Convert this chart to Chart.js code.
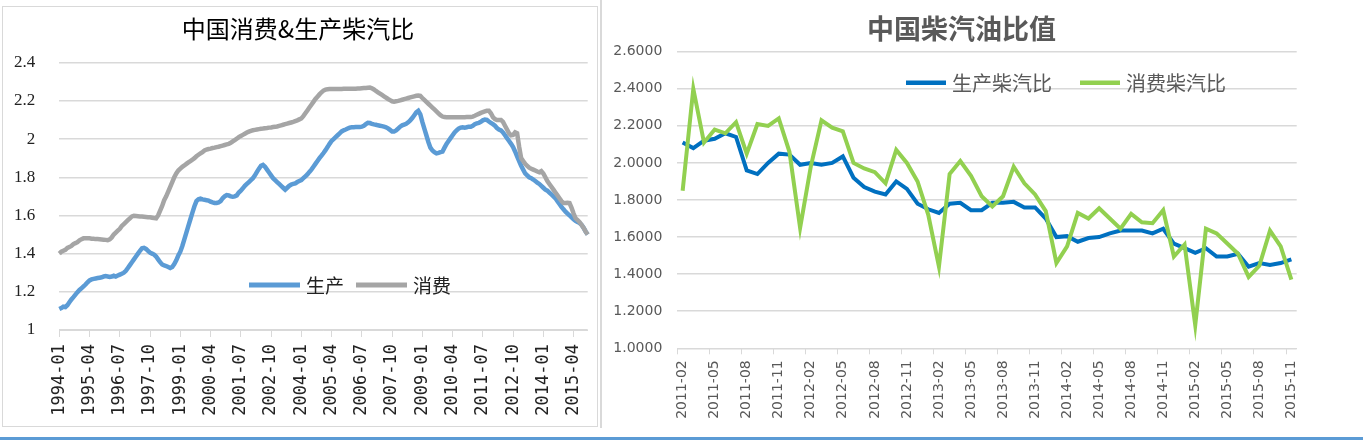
<!DOCTYPE html>
<html>
<head>
<meta charset="utf-8">
<script src="https://cdn.jsdelivr.net/npm/chart.js@4.4.1/dist/chart.umd.min.js"></script>
<style>
	body { margin: 0; background: #fff; width: 1363px; height: 444px; position: relative; overflow: hidden; }
	#marcoIzq { position: absolute; left: 2px; top: 6px; width: 596px; height: 421px; border: 1.5px solid #d9d9d9; box-sizing: border-box; }
	#lineaDer { position: absolute; left: 600px; top: 0; width: 1.5px; height: 428px; background: #d9d9d9; }
	#barra { position: absolute; left: 0; top: 437px; width: 1363px; height: 3px; background: #5b9bd5; }
	#graficoIzq { position: absolute; left: 0; top: 0; }
	#graficoDer { position: absolute; left: 601px; top: 0; }
</style>
</head>
<body>
<div id="marcoIzq"></div>
<div id="lineaDer"></div>
<div id="barra"></div>
<canvas id="graficoIzq" width="598" height="430"></canvas>
<canvas id="graficoDer" width="721" height="430"></canvas>
<script>
// grafico izquierdo: mensual 1994-01 .. 2015-11
var inicioIzq = [1994, 1];
var produccionIzq = [
	1.11, 1.115, 1.122, 1.12, 1.13, 1.145, 1.16, 1.172, 1.185, 1.198, 1.21, 1.218,
	1.228, 1.238, 1.25, 1.26, 1.265, 1.268, 1.27, 1.272, 1.274, 1.276, 1.28, 1.282,
	1.28, 1.278, 1.28, 1.284, 1.28, 1.285, 1.29, 1.295, 1.30, 1.31, 1.325, 1.34,
	1.355, 1.37, 1.385, 1.40, 1.415, 1.428, 1.43, 1.425, 1.415, 1.405, 1.40, 1.395,
	1.385, 1.37, 1.355, 1.343, 1.338, 1.335, 1.33, 1.325, 1.33, 1.345, 1.365, 1.39,
	1.41, 1.44, 1.475, 1.51, 1.545, 1.58, 1.615, 1.648, 1.675, 1.685, 1.688, 1.684,
	1.682, 1.68, 1.678, 1.672, 1.668, 1.665, 1.665, 1.668, 1.675, 1.69, 1.70, 1.707,
	1.705, 1.70, 1.698, 1.70, 1.705, 1.72, 1.73, 1.742, 1.755, 1.765, 1.775, 1.785,
	1.795, 1.81, 1.828, 1.845, 1.86, 1.865, 1.855, 1.84, 1.825, 1.81, 1.795, 1.785,
	1.775, 1.765, 1.755, 1.745, 1.735, 1.745, 1.755, 1.762, 1.765, 1.768, 1.775, 1.78,
	1.785, 1.795, 1.805, 1.815, 1.828, 1.84, 1.855, 1.87, 1.885, 1.90, 1.913, 1.927,
	1.942, 1.958, 1.975, 1.99, 2.00, 2.01, 2.02, 2.03, 2.04, 2.046, 2.05, 2.055,
	2.06, 2.062, 2.062, 2.063, 2.063, 2.063, 2.065, 2.07, 2.078, 2.085, 2.084, 2.08,
	2.077, 2.075, 2.072, 2.07, 2.068, 2.065, 2.062, 2.056, 2.048, 2.04, 2.04, 2.045,
	2.055, 2.065, 2.072, 2.076, 2.08, 2.088, 2.098, 2.11, 2.125, 2.14, 2.148, 2.13,
	2.09, 2.055, 2.02, 1.985, 1.955, 1.94, 1.932, 1.925, 1.928, 1.932, 1.935, 1.955,
	1.975, 1.99, 2.005, 2.02, 2.035, 2.045, 2.055, 2.06, 2.062, 2.06, 2.062, 2.065,
	2.065, 2.07, 2.078, 2.082, 2.085, 2.09, 2.098, 2.102, 2.10, 2.092, 2.085, 2.078,
	2.07, 2.058, 2.05, 2.045, 2.035, 2.02, 2.005, 1.99, 1.975, 1.958, 1.935, 1.91,
	1.885, 1.86, 1.84, 1.82, 1.81, 1.80, 1.795, 1.788, 1.78, 1.772, 1.765, 1.755,
	1.745, 1.735, 1.73, 1.72, 1.71, 1.70, 1.69, 1.675, 1.66, 1.645, 1.632, 1.62,
	1.61, 1.60, 1.59, 1.58, 1.572, 1.565, 1.56, 1.55, 1.535, 1.515, 1.50
];
var consumoIzq = [
	1.40, 1.41, 1.415, 1.42, 1.43, 1.435, 1.44, 1.45, 1.455, 1.46, 1.47, 1.475,
	1.48, 1.48, 1.48, 1.48, 1.478, 1.478, 1.476, 1.476, 1.475, 1.474, 1.473, 1.472,
	1.47, 1.475, 1.485, 1.50, 1.51, 1.52, 1.53, 1.545, 1.555, 1.565, 1.575, 1.585,
	1.595, 1.598, 1.597, 1.596, 1.595, 1.594, 1.593, 1.592, 1.591, 1.59, 1.588, 1.586,
	1.585, 1.60, 1.625, 1.65, 1.68, 1.70, 1.725, 1.75, 1.775, 1.80, 1.82, 1.835,
	1.845, 1.855, 1.862, 1.87, 1.878, 1.885, 1.892, 1.90, 1.91, 1.918, 1.925, 1.932,
	1.94, 1.945, 1.948, 1.95, 1.953, 1.955, 1.958, 1.96, 1.963, 1.966, 1.969, 1.972,
	1.975, 1.98, 1.988, 1.995, 2.002, 2.01, 2.016, 2.022, 2.028, 2.034, 2.039, 2.043,
	2.046, 2.048, 2.05, 2.052, 2.054, 2.055, 2.057, 2.058, 2.06, 2.061, 2.063, 2.064,
	2.066, 2.069, 2.072, 2.075, 2.078, 2.081, 2.084, 2.087, 2.09, 2.094, 2.098, 2.103,
	2.108, 2.12, 2.135, 2.15, 2.165, 2.18, 2.195, 2.21, 2.222, 2.234, 2.245, 2.254,
	2.259, 2.261, 2.262, 2.262, 2.262, 2.262, 2.262, 2.262, 2.262, 2.263, 2.263, 2.263,
	2.263, 2.264, 2.264, 2.264, 2.265, 2.265, 2.266, 2.267, 2.268, 2.269, 2.27, 2.266,
	2.26, 2.252, 2.245, 2.238, 2.231, 2.224, 2.217, 2.21, 2.204, 2.198, 2.196, 2.198,
	2.20, 2.203, 2.206, 2.209, 2.212, 2.215, 2.218, 2.221, 2.224, 2.227, 2.228, 2.226,
	2.215, 2.205, 2.195, 2.185, 2.175, 2.165, 2.155, 2.145, 2.135, 2.125, 2.118, 2.115,
	2.114, 2.114, 2.114, 2.114, 2.114, 2.114, 2.114, 2.114, 2.114, 2.114, 2.115, 2.115,
	2.115, 2.118, 2.122, 2.127, 2.132, 2.137, 2.141, 2.145, 2.148, 2.148, 2.135, 2.115,
	2.105, 2.10, 2.10, 2.10, 2.09, 2.07, 2.05, 2.03, 2.02, 2.022, 2.035, 2.03,
	1.96, 1.90, 1.885, 1.87, 1.86, 1.85, 1.845, 1.84, 1.835, 1.83, 1.826, 1.832,
	1.82, 1.80, 1.78, 1.765, 1.75, 1.735, 1.72, 1.705, 1.69, 1.675, 1.665, 1.665,
	1.666, 1.665, 1.64, 1.61, 1.585, 1.575, 1.565, 1.55, 1.535, 1.515, 1.50
];
var pasoEtiquetaIzq = 15;
var ticksYIzq = [1, 2.4, 0.2];

// grafico derecho: mensual 2011-02 .. 2015-11
var inicioDer = [2011, 2];
var produccionDer = [
	2.11, 2.08, 2.12, 2.13, 2.16, 2.14, 1.96, 1.94, 2.00, 2.05,
	2.045, 1.99, 2.00, 1.99, 2.00, 2.035, 1.92, 1.87, 1.845, 1.83,
	1.90, 1.86, 1.78, 1.75, 1.73, 1.78, 1.785, 1.745, 1.745, 1.785,
	1.785, 1.79, 1.76, 1.76, 1.70, 1.60, 1.605, 1.575, 1.595, 1.60,
	1.62, 1.635, 1.635, 1.635, 1.62, 1.645, 1.565, 1.54, 1.515, 1.54,
	1.495, 1.495, 1.51, 1.44, 1.46, 1.45, 1.46, 1.48
];
var consumoDer = [
	1.85, 2.40, 2.11, 2.18, 2.16, 2.22, 2.05, 2.21, 2.20, 2.24,
	2.06, 1.65, 1.98, 2.23, 2.19, 2.17, 2.00, 1.97, 1.95, 1.89,
	2.07, 2.00, 1.90, 1.72, 1.44, 1.94, 2.01, 1.93, 1.82, 1.765,
	1.82, 1.98, 1.89, 1.83, 1.74, 1.46, 1.55, 1.73, 1.70, 1.755,
	1.70, 1.645, 1.725, 1.68, 1.675, 1.745, 1.495, 1.56, 1.125, 1.645,
	1.62, 1.565, 1.51, 1.385, 1.445, 1.635, 1.55, 1.37
];
var pasoEtiquetaDer = 3;
var ticksYDer = [1, 2.6, 0.2];

function meses(inicio, n) {
	var out = [];
	for (var i = 0; i < n; i++) {
		var k = inicio[1] - 1 + i;
		out.push((inicio[0] + Math.floor(k / 12)) + '-' + String(k % 12 + 1).padStart(2, '0'));
	}
	return out;
}

// leyenda dentro del area de trazado
var leyendaInterna = {
	id: 'leyendaInterna',
	afterDatasetsDraw: function (chart, args, opts) {
		var ctx = chart.ctx;
		ctx.save();
		opts.items.forEach(function (x, i) {
			var ds = chart.data.datasets[i];
			ctx.strokeStyle = ds.borderColor;
			ctx.lineWidth = opts.lineWidth;
			ctx.beginPath();
			ctx.moveTo(x, opts.y);
			ctx.lineTo(x + opts.sample, opts.y);
			ctx.stroke();
			ctx.fillStyle = opts.color;
			ctx.font = opts.font;
			ctx.textBaseline = 'middle';
			ctx.textAlign = 'left';
			ctx.fillText(ds.label, x + opts.sample + opts.gap, opts.y + 1);
		});
		ctx.restore();
	}
};

var gris = '#d9d9d9';

// el eje x no debe empujar el area de trazado
function altoEjeX(h) {
	return function (s) {
		s.height = h;
		s.paddingLeft = 0;
		s.paddingRight = 0;
	};
}

new Chart(document.getElementById('graficoIzq').getContext('2d'), {
	type: 'line',
	data: {
		labels: meses(inicioIzq, produccionIzq.length),
		datasets: [{
			label: '生产',
			data: produccionIzq,
			borderColor: '#5b9bd5',
			borderWidth: 4.5,
			pointRadius: 0,
			order: 2
		}, {
			label: '消费',
			data: consumoIzq,
			borderColor: '#a5a5a5',
			borderWidth: 4.5,
			pointRadius: 0,
			order: 1
		}]
	},
	options: {
		responsive: false,
		animation: false,
		devicePixelRatio: 1,
		events: [],
		layout: { padding: { left: 8.3, right: 10.3, top: 0, bottom: 0 } },
		plugins: {
			legend: { display: false },
			tooltip: { enabled: false },
			title: {
				display: true,
				text: '中国消费&生产柴汽比',
				color: '#000',
				font: { family: '"Noto Sans CJK SC"', size: 24, weight: 'normal' },
				padding: { top: 14.6, bottom: 19.3 }
			},
			leyendaInterna: {
				items: [249, 356],
				y: 285,
				sample: 51,
				gap: 6,
				lineWidth: 5,
				color: '#222',
				font: '19px "Noto Sans CJK SC"'
			}
		},
		scales: {
			x: {
				offset: false,
				afterFit: altoEjeX(100),
				border: { display: true, color: gris },
				grid: {
					drawOnChartArea: false,
					drawTicks: true,
					tickLength: 7,
					color: function (c) { return c.index % pasoEtiquetaIzq === 0 ? gris : 'rgba(0,0,0,0)'; }
				},
				ticks: {
					autoSkip: false,
					minRotation: 90,
					maxRotation: 90,
					padding: 7,
					color: '#222',
					font: { family: '"DejaVu Sans Mono"', size: 17 },
					callback: function (v, i) { return i % pasoEtiquetaIzq === 0 ? this.getLabelForValue(v) : ''; }
				}
			},
			y: {
				min: ticksYIzq[0],
				max: ticksYIzq[1],
				afterFit: function (s) { s.width = 51; },
				border: { display: false },
				grid: { color: gris, lineWidth: 1.5, drawTicks: false },
				ticks: {
					stepSize: ticksYIzq[2],
					padding: 24,
					color: '#222',
					font: { family: '"Liberation Serif"', size: 17 },
					callback: function (v) { return String(Number(v.toFixed(1))); }
				}
			}
		}
	},
	plugins: [leyendaInterna]
});

new Chart(document.getElementById('graficoDer').getContext('2d'), {
	type: 'line',
	data: {
		labels: meses(inicioDer, produccionDer.length),
		datasets: [{
			label: '生产柴汽比',
			data: produccionDer,
			borderColor: '#0070c0',
			borderWidth: 4,
			pointRadius: 0,
			order: 2
		}, {
			label: '消费柴汽比',
			data: consumoDer,
			borderColor: '#92d050',
			borderWidth: 4,
			pointRadius: 0,
			order: 1
		}]
	},
	options: {
		responsive: false,
		animation: false,
		devicePixelRatio: 1,
		events: [],
		layout: { padding: 0 },
		plugins: {
			legend: { display: false },
			tooltip: { enabled: false },
			title: {
				display: true,
				text: '中国柴汽油比值',
				color: '#595959',
				font: { family: '"Noto Sans CJK SC"', size: 27, weight: 'bold' },
				padding: { top: 12.1, bottom: 7.2 }
			},
			leyendaInterna: {
				items: [305, 479],
				y: 82.7,
				sample: 40,
				gap: 6,
				lineWidth: 4.5,
				color: '#595959',
				font: '20px "Noto Sans CJK SC"'
			}
		},
		scales: {
			x: {
				offset: true,
				afterFit: altoEjeX(81.7),
				border: { display: true, color: gris },
				grid: {
					offset: true,
					drawOnChartArea: false,
					drawTicks: true,
					tickLength: 6,
					color: function (c) { return c.index % pasoEtiquetaDer === 0 ? gris : 'rgba(0,0,0,0)'; }
				},
				ticks: {
					autoSkip: false,
					minRotation: 90,
					maxRotation: 90,
					padding: 6,
					color: '#595959',
					font: { family: '"DejaVu Sans"', size: 14 },
					callback: function (v, i) { return i % pasoEtiquetaDer === 0 ? this.getLabelForValue(v) : ''; }
				}
			},
			y: {
				min: ticksYDer[0],
				max: ticksYDer[1],
				afterFit: function (s) { s.width = 76.3; },
				border: { display: false },
				grid: { color: gris, lineWidth: 1.5, drawTicks: false },
				ticks: {
					stepSize: ticksYDer[2],
					padding: 15,
					color: '#595959',
					font: { family: '"DejaVu Sans"', size: 14 },
					callback: function (v) { return v.toFixed(4); }
				}
			},
			// eje vacio a la derecha: solo reserva margen para centrar el titulo
			yVacio: {
				position: 'right',
				min: ticksYDer[0],
				max: ticksYDer[1],
				afterFit: function (s) { s.width = 25.3; },
				border: { display: false },
				grid: { display: false },
				ticks: { display: false }
			}
		}
	},
	plugins: [leyendaInterna]
});
</script>
</body>
</html>
